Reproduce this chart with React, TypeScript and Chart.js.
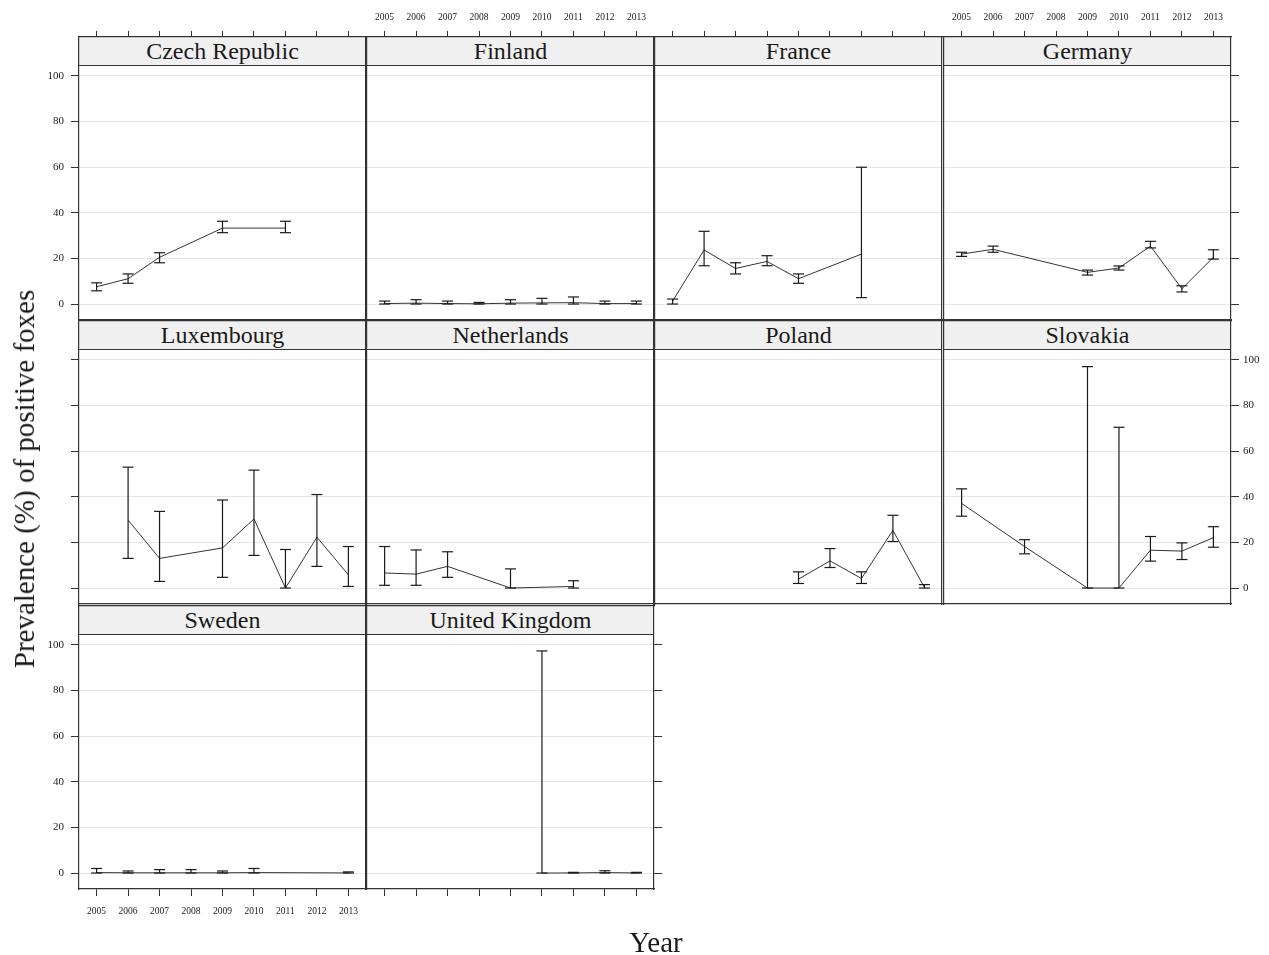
import React, { useEffect, useRef } from 'react';
import { Chart, registerables } from 'chart.js';

Chart.register(...registerables);

// ---------- data ----------
const years = [2005, 2006, 2007, 2008, 2009, 2010, 2011, 2012, 2013];
const yTicks = [0, 20, 40, 60, 80, 100];

const czechValue = [7.6, 11.1, 20.5, null, 33.3, null, 33.3, null, null];
const czechLow = [5.8, 9.1, 18.1, null, 31.3, null, 31.3, null, null];
const czechHigh = [9.3, 13.2, 22.5, null, 36.3, null, 36.3, null, null];

const finlandValue = [0.2, 0.4, 0.2, 0.1, 0.4, 0.5, 0.6, 0.2, 0.2];
const finlandLow = [0, 0, 0, 0, 0, 0, 0, 0, 0];
const finlandHigh = [1.3, 1.9, 1.3, 0.7, 1.9, 2.5, 3.1, 1.3, 1.3];

const franceValue = [1.3, 23.7, 15.6, 18.7, 11.1, null, 21.9, null, null];
const franceLow = [0.0, 16.8, 13.2, 16.8, 9.1, null, 2.8, null, null];
const franceHigh = [2.2, 31.9, 18.1, 21.2, 13.2, null, 60.0, null, null];

const germanyValue = [21.9, 24.0, null, null, 13.9, 15.8, 25.4, 6.7, 20.5];
const germanyLow = [20.9, 22.7, null, null, 12.7, 14.9, 24.6, 5.3, 19.7];
const germanyHigh = [22.7, 25.4, null, null, 14.9, 16.7, 27.5, 8.0, 23.8];

const luxValue = [null, 29.8, 13.0, null, 17.6, 30.3, 0, 22.3, 5.8];
const luxLow = [null, 13.0, 2.9, null, 4.7, 14.3, 0, 9.5, 0.7];
const luxHigh = [null, 53.0, 33.6, null, 38.6, 51.7, 16.9, 41.0, 18.2];

const nethValue = [6.6, 6.1, 9.5, null, 0, null, 0.7, null, null];
const nethLow = [1.2, 1.2, 4.7, null, 0, null, 0, null, null];
const nethHigh = [18.2, 16.7, 15.9, null, 8.4, null, 3.2, null, null];

const polandValue = [null, null, null, null, 3.9, 11.9, 4.2, 25.3, 0.3];
const polandLow = [null, null, null, null, 2.0, 9.0, 2.0, 20.4, 0];
const polandHigh = [null, null, null, null, 7.1, 17.3, 7.1, 31.9, 1.5];

const slovakiaValue = [37.1, null, 18.2, null, 0, 0, 16.6, 16.2, 22.1];
const slovakiaLow = [31.5, null, 15.0, null, 0, 0, 11.8, 12.5, 17.9];
const slovakiaHigh = [43.5, null, 21.2, null, 97.1, 70.5, 22.6, 19.8, 26.9];

const swedenValue = [0.2, 0.1, 0.1, 0.1, 0.1, 0.2, null, null, 0.05];
const swedenLow = [0, 0, 0, 0, 0, 0, null, null, 0];
const swedenHigh = [2.0, 0.9, 1.5, 1.5, 0.9, 2.0, null, null, 0.5];

const ukValue = [null, null, null, null, null, 0, 0.05, 0.2, 0.05];
const ukLow = [null, null, null, null, null, 0, 0, 0, 0];
const ukHigh = [null, null, null, null, null, 97.4, 0.3, 1.0, 0.3];

// ---------- layout ----------
const FONT = '"Liberation Serif", "Times New Roman", serif';
const COL_LEFT = [79, 367, 655, 944];
const ROW_TOP = [37, 321, 606];
const W = 287;
const STRIP = 29;
const H = 283; // strip + plot
const M = 50;
const XMIN = 2004.44;
const XMAX = 2013.56;
const YMIN = -7.0;
const YMAX = 117.1;
const BORDER = '#333333';
const GRID = '#e6e6e6';
const INK = '#1a1a1a';

// side flags: 0 none, 1 ticks only, 2 ticks + labels
type Panel = {
  name: string; value: (number | null)[]; low: (number | null)[]; high: (number | null)[];
  row: number; col: number; top: number; bottom: number; left: number; right: number;
};

const panels: Panel[] = [
  { name: 'Czech Republic', value: czechValue, low: czechLow, high: czechHigh, row: 0, col: 0, top: 1, bottom: 0, left: 2, right: 0 },
  { name: 'Finland', value: finlandValue, low: finlandLow, high: finlandHigh, row: 0, col: 1, top: 2, bottom: 0, left: 0, right: 0 },
  { name: 'France', value: franceValue, low: franceLow, high: franceHigh, row: 0, col: 2, top: 1, bottom: 0, left: 0, right: 0 },
  { name: 'Germany', value: germanyValue, low: germanyLow, high: germanyHigh, row: 0, col: 3, top: 2, bottom: 0, left: 0, right: 1 },
  { name: 'Luxembourg', value: luxValue, low: luxLow, high: luxHigh, row: 1, col: 0, top: 0, bottom: 0, left: 1, right: 0 },
  { name: 'Netherlands', value: nethValue, low: nethLow, high: nethHigh, row: 1, col: 1, top: 0, bottom: 0, left: 0, right: 0 },
  { name: 'Poland', value: polandValue, low: polandLow, high: polandHigh, row: 1, col: 2, top: 0, bottom: 0, left: 0, right: 0 },
  { name: 'Slovakia', value: slovakiaValue, low: slovakiaLow, high: slovakiaHigh, row: 1, col: 3, top: 0, bottom: 0, left: 0, right: 2 },
  { name: 'Sweden', value: swedenValue, low: swedenLow, high: swedenHigh, row: 2, col: 0, top: 0, bottom: 2, left: 2, right: 0 },
  { name: 'United Kingdom', value: ukValue, low: ukLow, high: ukHigh, row: 2, col: 1, top: 0, bottom: 1, left: 0, right: 1 },
];

function xAxis(position: string, flag: number) {
  return {
    type: 'linear',
    position,
    min: XMIN,
    max: XMAX,
    bounds: 'data',
    afterBuildTicks: (s: any) => { s.ticks = years.map((v) => ({ value: v })); },
    afterFit: (s: any) => { s.height = M; },
    grid: { display: true, drawOnChartArea: false, drawTicks: flag > 0, tickLength: position === 'top' ? 6 : 7, tickColor: BORDER, tickWidth: 1 },
    border: { display: true, color: BORDER, width: 1.2 },
    ticks: {
      autoSkip: false, maxRotation: 0, padding: position === 'top' ? 8 : 10, color: INK,
      font: { family: FONT, size: 9.5 },
      callback: (v: any) => (flag === 2 ? String(v) : ''),
    },
  };
}

function yAxis(position: string, flag: number, main: boolean) {
  return {
    type: 'linear',
    position,
    min: YMIN,
    max: YMAX,
    bounds: 'data',
    afterBuildTicks: (s: any) => { s.ticks = yTicks.map((v) => ({ value: v })); },
    afterFit: (s: any) => { s.width = M; },
    grid: { display: true, drawOnChartArea: main, color: GRID, lineWidth: 1, drawTicks: flag > 0, tickLength: 8, tickColor: BORDER, tickWidth: 1 },
    border: { display: true, color: BORDER, width: 1.2 },
    ticks: {
      autoSkip: false, padding: position === 'left' ? 7 : 4, color: INK,
      font: { family: FONT, size: 11 },
      callback: (v: any) => (flag === 2 ? String(v) : ''),
    },
  };
}

function PanelChart({ p }: { p: Panel }) {
  const ref = useRef<HTMLCanvasElement>(null);
  useEffect(() => {
    if (!ref.current) return;
    const line: any[] = [];
    const whisk: any[] = [];
    const caps: any[] = [];
    years.forEach((x, i) => {
      const v = p.value[i];
      if (v !== null) line.push({ x, y: v });
      const lo = p.low[i];
      const hi = p.high[i];
      if (lo !== null && hi !== null) {
        whisk.push({ x, y: lo }, { x, y: hi }, { x, y: null });
        caps.push({ x, y: lo }, { x, y: hi });
      }
    });
    const chart = new Chart(ref.current, {
      type: 'line',
      data: {
        datasets: [
          { data: whisk, borderColor: INK, borderWidth: 1.2, pointRadius: 0, spanGaps: false, fill: false },
          { data: caps, showLine: false, pointStyle: 'line', pointRadius: 5.5, pointBorderWidth: 1.2, pointBorderColor: INK, pointBackgroundColor: INK },
          { data: line, borderColor: '#333333', borderWidth: 1, pointRadius: 0, spanGaps: true, fill: false, tension: 0 },
        ],
      } as any,
      options: {
        animation: false,
        responsive: false,
        devicePixelRatio: 1,
        events: [],
        layout: { padding: 0 },
        plugins: { legend: { display: false }, tooltip: { enabled: false } },
        scales: {
          x: xAxis('bottom', p.bottom),
          x2: xAxis('top', p.top),
          y: yAxis('left', p.left, true),
          y2: yAxis('right', p.right, false),
        } as any,
      } as any,
    });
    return () => chart.destroy();
  }, [p]);
  const cw = W + 2 * M;
  const ch = H + 2 * M;
  return (
    <canvas
      ref={ref}
      width={cw}
      height={ch}
      style={{ position: 'absolute', left: COL_LEFT[p.col] - M, top: ROW_TOP[p.row] - M, width: cw, height: ch, pointerEvents: 'none' }}
    />
  );
}

function Strip({ p }: { p: Panel }) {
  return (
    <div
      style={{
        position: 'absolute', left: COL_LEFT[p.col], top: ROW_TOP[p.row], width: W, height: STRIP,
        boxSizing: 'border-box', background: '#f0f0f0', borderBottom: `1px solid ${BORDER}`,
        fontFamily: FONT, fontSize: 24, lineHeight: '29px', textAlign: 'center', color: INK, whiteSpace: 'nowrap',
      }}
    >
      {p.name}
    </div>
  );
}

export default function App() {
  return (
    <div style={{ position: 'absolute', left: 0, top: 0, width: 1269, height: 955, background: '#ffffff', overflow: 'hidden' }}>
      {panels.map((p) => <Strip key={'s' + p.name} p={p} />)}
      {panels.map((p) => <PanelChart key={'c' + p.name} p={p} />)}
      <div
        style={{
          position: 'absolute', left: 24, top: 479, transform: 'translate(-50%, -50%) rotate(-90deg)',
          whiteSpace: 'nowrap', fontFamily: FONT, fontSize: 29, color: INK, lineHeight: '32px',
        }}
      >
        Prevalence (%) of positive foxes
      </div>
      <div
        style={{
          position: 'absolute', left: 656, top: 942, transform: 'translate(-50%, -50%)',
          whiteSpace: 'nowrap', fontFamily: FONT, fontSize: 29, color: INK, lineHeight: '32px',
        }}
      >
        Year
      </div>
    </div>
  );
}
